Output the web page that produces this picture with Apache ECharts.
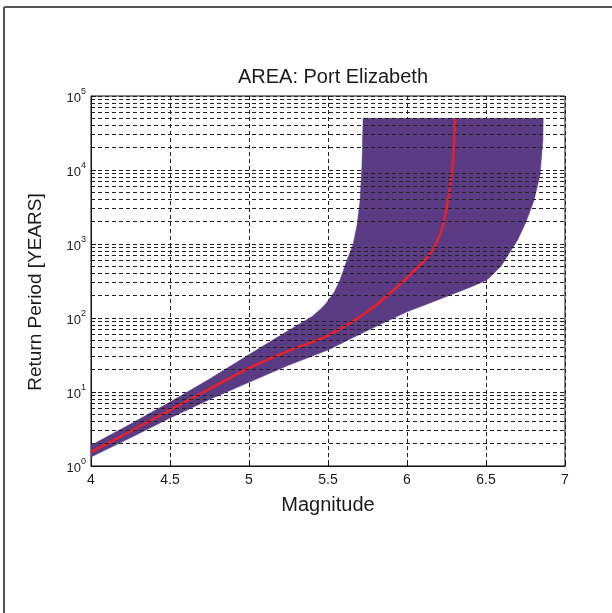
<!DOCTYPE html>
<html>
<head>
<meta charset="utf-8">
<script src="https://cdn.jsdelivr.net/npm/echarts@6/dist/echarts.min.js"></script>
<style>html,body{margin:0;padding:0;background:#fff;}#c{width:612px;height:613px;}</style>
</head>
<body>
<div id="c"></div>
<script>
// ---- data ----
var xTicks = [4, 4.5, 5, 5.5, 6, 6.5, 7];
var yDecades = [1, 10, 100, 1000, 10000, 100000];

// upper (left) edge of the uncertainty band, from M=4 up to the top
var upperMag = [4.0, 4.25, 4.5, 4.75, 5.0, 5.25, 5.4, 5.45, 5.49, 5.54, 5.576, 5.62, 5.658, 5.684, 5.703, 5.715, 5.722];
var upperT   = [1.9, 3.7, 7.3, 15, 32, 68, 105, 130, 160, 225, 326, 605, 970, 1800, 3900, 11700, 50000];

// lower (right) edge of the band, from M=4 up to the top
var lowerMag = [4.0, 4.25, 4.5, 4.75, 5.0, 5.25, 5.5, 5.72, 6.0, 6.146, 6.3, 6.4, 6.5, 6.55, 6.6, 6.7, 6.753, 6.804, 6.842, 6.86, 6.862];
var lowerT   = [1.32, 2.4, 4.45, 7.9, 13.5, 23, 37, 63, 121, 160, 215, 260, 320, 400, 520, 1130, 1990, 3900, 8600, 25500, 50000];

// median return period curve (red)
var medMag = [4.0, 4.25, 4.5, 4.75, 5.0, 5.25, 5.5, 5.75, 6.0, 6.15, 6.22, 6.26, 6.29, 6.305];
var medT   = [1.55, 2.95, 5.7, 11, 21, 36, 58, 122, 350, 760, 1550, 4000, 12000, 50000];

// ---- build ----
var bandPts = [];
for (var i = 0; i < upperMag.length; i++) bandPts.push([upperMag[i], upperT[i]]);
for (var j = lowerMag.length - 1; j >= 0; j--) bandPts.push([lowerMag[j], lowerT[j]]);

var medData = medMag.map(function (m, k) { return [m, medT[k]]; });

var minorLines = [];
for (var d = 0; d < yDecades.length - 1; d++) {
  for (var s = 2; s <= 9; s++) minorLines.push({ yAxis: yDecades[d] * s });
}

var FONT = 'Liberation Sans, Arial, sans-serif';
var chart = echarts.init(document.getElementById('c'));
var txt = '#1a1a1a';
chart.setOption({
  backgroundColor: '#fff',
  animation: false,
  title: {
    text: 'AREA: Port Elizabeth',
    left: 328, top: 62, textAlign: 'center',
    textStyle: { fontFamily: FONT, fontSize: 20, fontWeight: 'normal', color: txt }
  },
  graphic: [
    { type: 'line', shape: { x1: 4, y1: 7, x2: 612, y2: 7 }, style: { stroke: '#555', lineWidth: 2 } },
    { type: 'line', shape: { x1: 4, y1: 7, x2: 4, y2: 613 }, style: { stroke: '#555', lineWidth: 2 } },
    { type: 'text', x: 36, y: 292, rotation: Math.PI / 2,
      style: { text: 'Return Period [YEARS]', font: '19px ' + FONT, fill: txt, align: 'center', verticalAlign: 'middle' } }
  ],
  grid: { left: 91, right: 47, top: 96, bottom: 147, show: true, borderColor: '#111', borderWidth: 1, backgroundColor: 'transparent' },
  xAxis: {
    type: 'value', min: 4, max: 7, interval: 0.5,
    name: 'Magnitude', nameLocation: 'middle', nameGap: 29,
    nameTextStyle: { fontFamily: FONT, fontSize: 20, color: txt },
    axisLine: { lineStyle: { color: '#111', width: 1 } },
    axisTick: { inside: true, length: 5, lineStyle: { color: '#111' } },
    axisLabel: { fontFamily: FONT, fontSize: 14, color: txt, margin: 7,
      formatter: function (v) { return String(v); } },
    splitLine: { show: true, lineStyle: { color: '#222', type: [4, 3], width: 1 } }
  },
  yAxis: {
    type: 'log', logBase: 10, min: 1, max: 100000,
    axisLine: { lineStyle: { color: '#111', width: 1 } },
    axisTick: { inside: true, length: 5, lineStyle: { color: '#111' } },
    axisLabel: {
      margin: 5,
      formatter: function (v) { return '{b|10}{e|' + Math.round(Math.log10(v)) + '}'; },
      rich: {
        b: { fontFamily: FONT, fontSize: 13, color: txt, padding: [4, 0, 0, 0] },
        e: { fontFamily: FONT, fontSize: 9, color: txt, padding: [0, 0, 8, 0] }
      }
    },
    splitLine: { show: true, lineStyle: { color: '#222', type: [4, 3], width: 1 } }
  },
  series: [
    {
      type: 'line', z: 1, data: [[4, 1]], symbol: 'none', lineStyle: { opacity: 0 }, silent: true,
      markLine: {
        silent: true, symbol: ['none', 'none'], label: { show: false },
        lineStyle: { color: '#222', type: [4, 3], width: 1 },
        data: minorLines
      }
    },
    {
      type: 'custom', z: 2, silent: true, data: [0],
      renderItem: function (params, api) {
        var pts = bandPts.map(function (p) { return api.coord(p); });
        return { type: 'polygon', shape: { points: pts }, style: { fill: '#5b3c84', stroke: '#5b3c84', lineWidth: 0.5 } };
      }
    },
    {
      type: 'line', z: 3, data: medData, symbol: 'none', smooth: 0.25,
      lineStyle: { color: '#e8212b', width: 2.5 }
    }
  ]
});
</script>
</body>
</html>
